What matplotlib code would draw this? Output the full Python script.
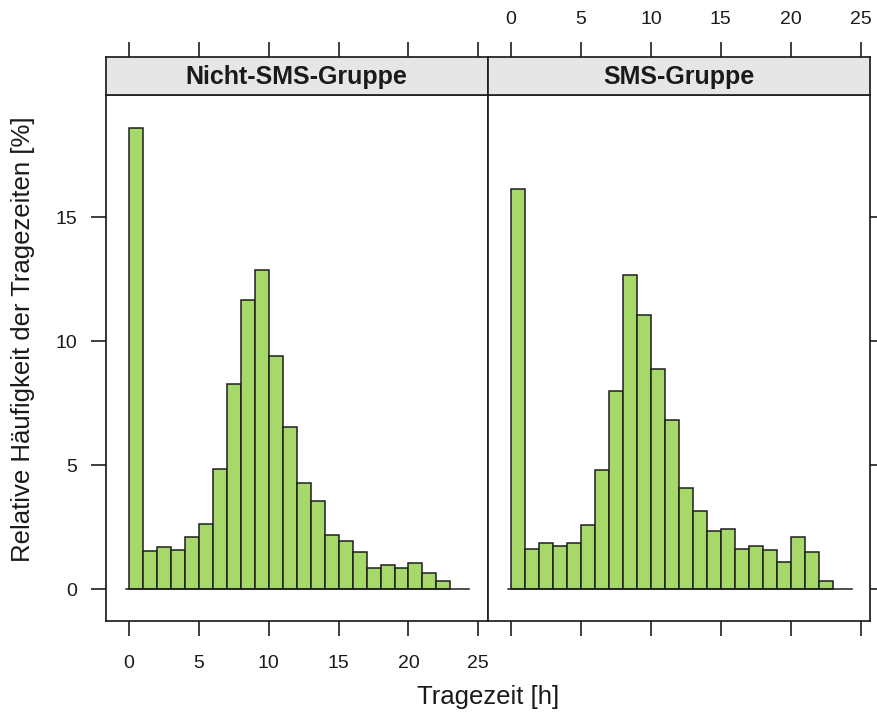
import matplotlib.pyplot as plt
import numpy as np

plt.rcParams['font.family'] = ['Liberation Sans', 'DejaVu Sans']

# Relative Häufigkeit (%) je 1-Stunden-Klasse der Tragezeit
groups = ['Nicht-SMS-Gruppe', 'SMS-Gruppe']
bin_edges = np.arange(0, 24)
nicht_sms = [18.6, 1.56, 1.69, 1.60, 2.10, 2.62, 4.84, 8.28, 11.68, 12.88, 9.41, 6.53,
             4.27, 3.55, 2.18, 1.96, 1.52, 0.85, 0.98, 0.85, 1.05, 0.65, 0.35]
sms = [16.15, 1.61, 1.85, 1.75, 1.85, 2.58, 4.81, 7.98, 12.66, 11.06, 8.90, 6.83,
       4.07, 3.15, 2.34, 2.42, 1.61, 1.75, 1.58, 1.11, 2.10, 1.52, 0.35]
x_ticks = [0, 5, 10, 15, 20, 25]
y_ticks = [0, 5, 10, 15]
baseline = [-0.22, 24.35]

W, H = 877, 715
fig = plt.figure(figsize=(W / 100, H / 100), dpi=100)


def box(x0, y0, x1, y1):
    return [x0 / W, 1 - y1 / H, (x1 - x0) / W, (y1 - y0) / H]


edge = '#1e1e1e'
panels = [(105.7, 487.7), (487.7, 870.0)]
for i, (name, vals) in enumerate(zip(groups, [nicht_sms, sms])):
    x0, x1 = panels[i]
    ax = fig.add_axes(box(x0, 95, x1, 621))
    ax.bar(bin_edges[:-1], vals, width=1, align='edge', color='#a6d96a',
           edgecolor=edge, linewidth=1.1, zorder=2)
    ax.plot(baseline, [0, 0], color=edge, lw=1.1, zorder=3)
    ax.set_xlim(-1.67, 25.67)
    ax.set_ylim(-1.28, 19.93)
    ax.set_xticks(x_ticks)
    ax.set_yticks(y_ticks)
    ax.tick_params(axis='both', direction='out', length=10.8, width=1.2,
                   color=edge, labelsize=14, labelcolor='#1a1a1a')
    ax.tick_params(axis='x', pad=14, top=False, bottom=True, labelbottom=(i == 0))
    if i == 0:
        ax.tick_params(axis='y', pad=10, left=True, right=False, labelleft=True)
    else:
        ax.tick_params(axis='y', left=False, right=True, labelleft=False, labelright=False)
    for s in ax.spines.values():
        s.set_linewidth(1.25)
        s.set_color(edge)

    # Streifen mit Gruppenname, Achsenticks oben
    st = fig.add_axes(box(x0, 56.7, x1, 95))
    st.set_facecolor('#e6e6e6')
    st.set_xlim(ax.get_xlim())
    st.set_yticks([])
    st.xaxis.tick_top()
    st.set_xticks(x_ticks)
    st.tick_params(axis='x', direction='out', length=10.8, width=1.2, color=edge,
                   labelsize=14, labelcolor='#1a1a1a', pad=10, labeltop=(i == 1))
    for s in st.spines.values():
        s.set_linewidth(1.25)
        s.set_color(edge)
    st.text(0.5, 0.47, name, transform=st.transAxes, ha='center', va='center',
            fontsize=18, fontweight='bold', color='#1a1a1a')

fig.text(23 / W, 1 - 339 / H, 'Relative Häufigkeit der Tragezeiten [%]', rotation=90,
         ha='center', va='center', fontsize=18.5, color='#1a1a1a')
fig.text(488 / W, 1 - 697 / H, 'Tragezeit [h]', ha='center', va='center',
         fontsize=18.5, color='#1a1a1a')

fig.savefig('out.png', dpi=100)
